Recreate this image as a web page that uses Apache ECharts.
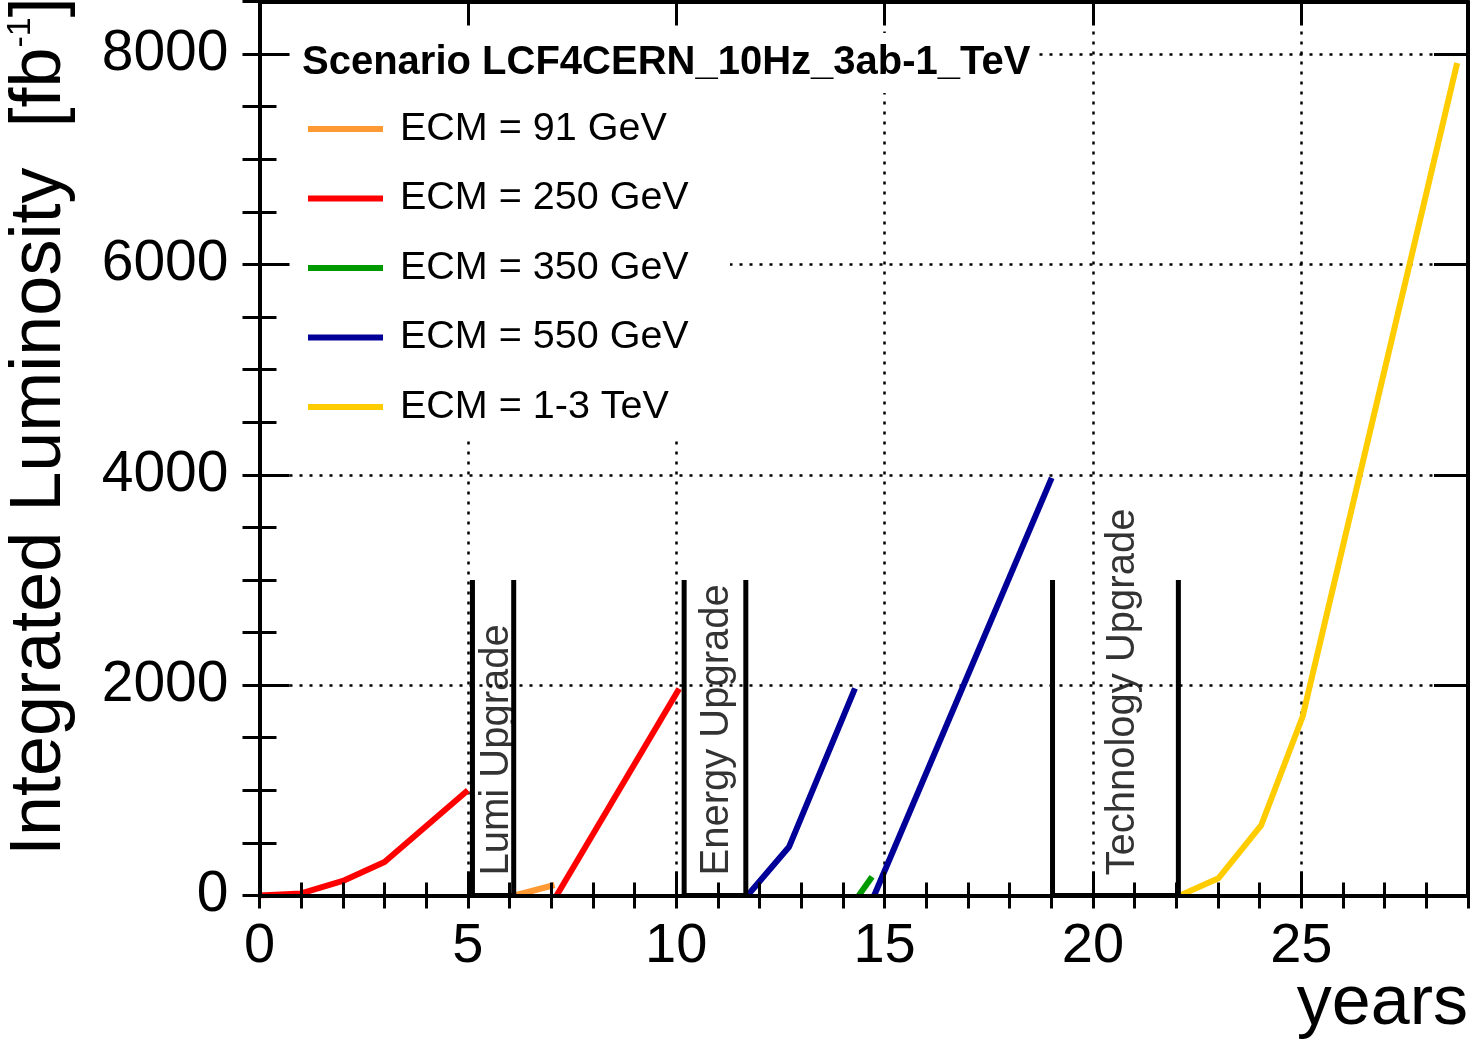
<!DOCTYPE html>
<html>
<head>
<meta charset="utf-8">
<title>Integrated Luminosity</title>
<script src="https://cdn.jsdelivr.net/npm/echarts@6/dist/echarts.min.js"></script>
<style>
  html, body { margin: 0; padding: 0; background: #fff; }
  #chart { width: 1471px; height: 1043px; }
</style>
</head>
<body>
<div id="chart"></div>
<script>
// Integrated luminosity per energy stage, [year, fb^-1]
const ecm91   = [[6.12, 0], [7.08, 100]];
const ecm250a = [[0, 0], [1, 20], [2, 138], [3, 318], [5, 1000]];
const ecm250b = [[7.13, 0], [10.07, 1965]];
const ecm350  = [[14.38, 0], [14.70, 179]];
const ecm550a = [[11.71, 0], [12.71, 464], [14.29, 1970]];
const ecm550b = [[14.75, 0], [19.01, 3970]];
const ecmTeV  = [[22.09, 0], [23.01, 163], [24.04, 670], [25.03, 1699], [28.74, 7915]];

// Upgrade shutdown periods: [start year, end year]
const upgradeNames  = ['Lumi Upgrade', 'Energy Upgrade', 'Technology Upgrade'];
const upgradeSpans  = [[5.11, 6.10], [10.19, 11.67], [19.03, 22.05]];
const upgradeHeight = 3000;
const upgradeLabelAt = [[5.69, 190], [10.98, 190], [20.73, 190]];

const legendNames = ['ECM = 91 GeV', 'ECM = 250 GeV', 'ECM = 350 GeV', 'ECM = 550 GeV', 'ECM = 1-3 TeV'];
const legendColors = ['#FF9933', '#FF0000', '#009900', '#000099', '#FFCC00'];

const xMin = 0, xMax = 29, yMin = 0, yMax = 8500;
const xMajor = 5, xMinor = 1, yMajor = 2000, yMinor = 500;

const FONT = '"Liberation Sans", Arial, Helvetica, sans-serif';

function lineSeries(name, color, data) {
  return {
    type: 'line', name: name, data: data, symbol: 'none', z: 2,
    color: color,
    lineStyle: { color: color, width: 6 },
    xAxisIndex: 0, yAxisIndex: 0, animation: false
  };
}

function boxSeries(span) {
  return {
    type: 'line', name: '_box', symbol: 'none', z: 2,
    data: [[span[0], upgradeHeight], [span[0], 0], [span[1], 0], [span[1], upgradeHeight]],
    lineStyle: { color: '#000', width: 5, join: 'miter' },
    xAxisIndex: 0, yAxisIndex: 0, animation: false, silent: true
  };
}

function xAxisDef(opts) {
  return Object.assign({
    type: 'value', min: xMin, max: xMax, position: 'bottom',
    axisLine: { show: false }, axisTick: { show: false },
    axisLabel: { show: false }, splitLine: { show: false }, z: 3
  }, opts);
}
function yAxisDef(opts) {
  return Object.assign({
    type: 'value', min: yMin, max: yMax, position: 'left',
    axisLine: { show: false }, axisTick: { show: false },
    axisLabel: { show: false }, splitLine: { show: false }, z: 3
  }, opts);
}

const frameLine = { show: true, onZero: false, lineStyle: { color: '#000', width: 4 } };
const tickStyle = { color: '#000', width: 3 };
const gridStyle = { show: true, lineStyle: { color: '#000', width: 2.5, type: [3, 7] } };

const chart = echarts.init(document.getElementById('chart'), null, { renderer: 'canvas' });

const series = [
  lineSeries(legendNames[1], legendColors[1], ecm250a),
  lineSeries(legendNames[0], legendColors[0], ecm91),
  lineSeries(legendNames[1], legendColors[1], ecm250b),
  lineSeries(legendNames[3], legendColors[3], ecm550a),
  lineSeries(legendNames[2], legendColors[2], ecm350),
  lineSeries(legendNames[3], legendColors[3], ecm550b),
  lineSeries(legendNames[4], legendColors[4], ecmTeV)
];
upgradeSpans.forEach(s => series.push(boxSeries(s)));
series.push({
  type: 'scatter', name: '_labels', symbolSize: 1, z: 3,
  itemStyle: { color: 'rgba(0,0,0,0)' },
  data: upgradeNames.map((n, i) => ({ name: n, value: upgradeLabelAt[i] })),
  label: {
    show: true, position: 'inside', formatter: '{b}', rotate: 90,
    align: 'left', verticalAlign: 'middle',
    color: '#000', fontSize: 40, fontFamily: FONT
  },
  xAxisIndex: 0, yAxisIndex: 0, animation: false, silent: true
});

chart.setOption({
  backgroundColor: '#fff',
  animation: false,
  textStyle: { fontFamily: FONT },
  grid: { left: 259.5, right: 2, top: 1.5, bottom: 147.5, containLabel: false },
  xAxis: [
    xAxisDef({ interval: xMajor, axisLine: frameLine,
      axisTick: { show: true, inside: true, length: 24, lineStyle: tickStyle },
      axisLabel: { show: true, margin: 23, fontSize: 56, color: '#000', fontFamily: FONT,
        formatter: v => (v % xMajor === 0 ? String(v) : '') } }),
    xAxisDef({ interval: xMinor, axisTick: { show: true, inside: true, length: 13, lineStyle: tickStyle } }),
    xAxisDef({ position: 'top', interval: xMajor, axisLine: frameLine,
      axisTick: { show: true, inside: true, length: 24, lineStyle: tickStyle } }),
    xAxisDef({ position: 'top', interval: xMinor,
      axisTick: { show: true, inside: true, length: 13, lineStyle: tickStyle } }),
    xAxisDef({ interval: xMajor, splitLine: gridStyle, z: 0 })
  ],
  yAxis: [
    yAxisDef({ interval: yMajor, axisLine: frameLine,
      axisTick: { show: true, inside: true, length: 30, lineStyle: tickStyle },
      axisLabel: { show: true, margin: 31, fontSize: 57, color: '#000', fontFamily: FONT,
        formatter: v => (v % yMajor === 0 ? String(v) : '') } }),
    yAxisDef({ interval: yMinor, axisTick: { show: true, inside: true, length: 17, lineStyle: tickStyle } }),
    yAxisDef({ position: 'right', interval: yMajor, axisLine: frameLine,
      axisTick: { show: true, inside: true, length: 34, lineStyle: tickStyle } }),
    yAxisDef({ position: 'right', interval: yMinor,
      axisTick: { show: true, inside: true, length: 17, lineStyle: tickStyle } }),
    yAxisDef({ interval: yMajor, splitLine: gridStyle, z: 0 })
  ],
  title: {
    text: 'Scenario LCF4CERN_10Hz_3ab-1_TeV',
    left: 298, top: 33,
    padding: [10, 3, 10, 4],
    backgroundColor: '#fff',
    textStyle: { fontSize: 40, fontWeight: 'bold', color: '#000', fontFamily: FONT }
  },
  legend: {
    data: legendNames,
    orient: 'vertical', left: 308, top: 109, padding: 0,
    icon: 'rect', itemWidth: 75, itemHeight: 6, itemGap: 29.5,
    selectedMode: false,
    textStyle: { fontSize: 39.5, color: '#000', fontFamily: FONT, padding: [0, 0, 0, 12] }
  },
  graphic: [
    { type: 'rect', z: 1, silent: true,
      shape: { x: 263, y: 3, width: 467, height: 437 },
      style: { fill: '#fff' } },
    { type: 'text', z: 5, silent: true, x: 40, y: 856, rotation: Math.PI / 2,
      style: {
        text: '{m|Integrated Luminosity  [fb}{s|-1}{m|]}',
        align: 'left', verticalAlign: 'middle',
        textAlign: 'left', textVerticalAlign: 'middle',
        fill: '#000', font: '72px ' + FONT,
        rich: {
          m: { fontSize: 72, fontFamily: FONT, lineHeight: 72, verticalAlign: 'middle' },
          s: { fontSize: 34, fontFamily: FONT, lineHeight: 34, verticalAlign: 'top' }
        }
      } },
    { type: 'text', z: 5, silent: true, x: 1468, y: 1005,
      style: {
        text: 'years', align: 'right', verticalAlign: 'middle',
        textAlign: 'right', textVerticalAlign: 'middle',
        fill: '#000', font: '70px ' + FONT
      } }
  ],
  series: series
});
</script>
</body>
</html>
